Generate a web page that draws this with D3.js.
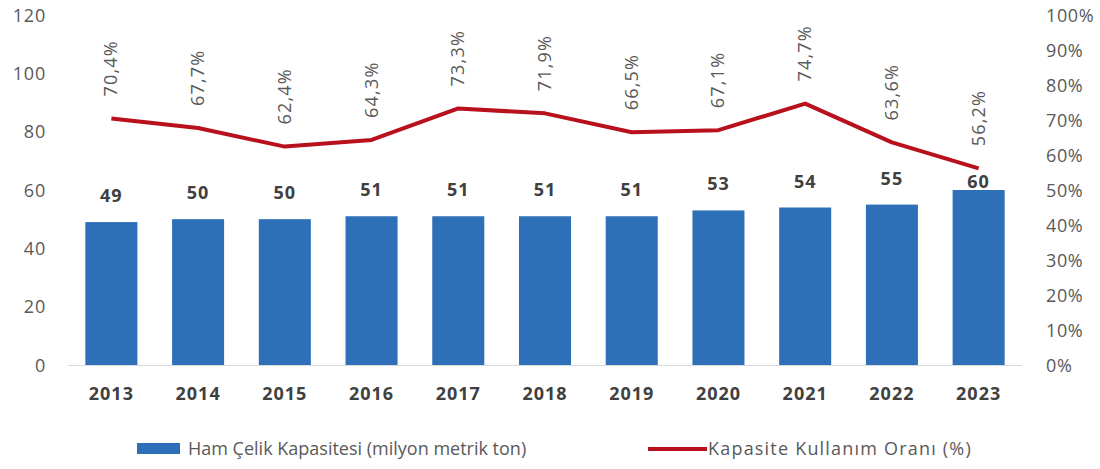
<!DOCTYPE html>
<html>
<head>
<meta charset="utf-8">
<script src="https://cdn.jsdelivr.net/npm/d3@7"></script>
<style>
  body { margin: 0; background: #fff; }
  svg { display: block; font-family: "Open Sans", "Noto Sans", sans-serif; }
</style>
</head>
<body>
<svg id="chart" width="1100" height="469"></svg>
<script>
// Crude steel capacity (million metric tons) and capacity utilisation (%)
const years = ["2013", "2014", "2015", "2016", "2017", "2018", "2019", "2020", "2021", "2022", "2023"];
const capacity = [49, 50, 50, 51, 51, 51, 51, 53, 54, 55, 60];
const utilisation = [70.4, 67.7, 62.4, 64.3, 73.3, 71.9, 66.5, 67.1, 74.7, 63.6, 56.2];
const leftTicks = [0, 20, 40, 60, 80, 100, 120];
const rightTicks = [0, 10, 20, 30, 40, 50, 60, 70, 80, 90, 100];
const seriesNames = ["Ham Çelik Kapasitesi (milyon metrik ton)", "Kapasite Kullanım Oranı (%)"];

const svg = d3.select("#chart");
const plot = { left: 68, right: 1022, top: 15, bottom: 365 };

const x = d3.scaleBand().domain(years).range([plot.left, plot.right]).paddingInner(0.4).paddingOuter(0.2);
const yL = d3.scaleLinear().domain([0, 120]).range([plot.bottom, plot.top]);
const yR = d3.scaleLinear().domain([0, 100]).range([plot.bottom, plot.top]);

const fmtPct = v => d3.format(".1f")(v).replace(".", ",") + "%";
const grey = "#595959";
const dark = "#404040";
const blue = "#2E70B8";
const red = "#B8101C";

// Left axis (tons)
const axL = svg.append("g").attr("transform", `translate(${plot.left - 22},0)`)
  .call(d3.axisLeft(yL).tickValues(leftTicks).tickSize(0).tickPadding(0));
axL.select(".domain").remove();
axL.selectAll("text").attr("fill", grey).attr("dy", "0.35em")
  .style("font-size", "18px").style("font-family", "Open Sans").style("letter-spacing", "0.8px");

// Right axis (percent)
const axR = svg.append("g").attr("transform", `translate(1046,0)`)
  .call(d3.axisRight(yR).tickValues(rightTicks).tickSize(0).tickPadding(0).tickFormat(d => d + "%"));
axR.select(".domain").remove();
axR.selectAll("text").attr("fill", grey).attr("dy", "0.35em")
  .style("font-size", "18px").style("font-family", "Open Sans").style("letter-spacing", "0.6px");

// Bars
svg.append("g").selectAll("rect").data(years).join("rect")
  .attr("x", d => x(d))
  .attr("y", (d, i) => yL(capacity[i]))
  .attr("width", x.bandwidth())
  .attr("height", (d, i) => yL(0) - yL(capacity[i]))
  .attr("fill", blue);

// Baseline
svg.append("line")
  .attr("x1", plot.left).attr("x2", plot.right)
  .attr("y1", yL(0) + 0.5).attr("y2", yL(0) + 0.5)
  .attr("stroke", "#d9d9d9").attr("stroke-width", 1);

// Category axis
const axX = svg.append("g").attr("transform", `translate(0,${plot.bottom})`)
  .call(d3.axisBottom(x).tickSize(0).tickPadding(0));
axX.select(".domain").remove();
axX.selectAll("text").attr("fill", dark).attr("y", 35).attr("dy", 0)
  .style("font-size", "18px").style("font-weight", "bold").style("font-family", "Open Sans")
  .style("letter-spacing", "1px");

// Utilisation line
const line = d3.line().x((d, i) => x(years[i]) + x.bandwidth() / 2).y(d => yR(d));
svg.append("path").datum(utilisation)
  .attr("d", line).attr("fill", "none").attr("stroke", red)
  .attr("stroke-width", 4).attr("stroke-linejoin", "round");

// Bar value labels (kept clear of the line)
svg.append("g").selectAll("text").data(years).join("text")
  .attr("x", d => x(d) + x.bandwidth() / 2)
  .attr("y", (d, i) => Math.max(yL(capacity[i]) - 20, yR(utilisation[i]) + 20))
  .attr("text-anchor", "middle")
  .attr("fill", dark)
  .style("font-size", "18px").style("font-weight", "bold").style("letter-spacing", "1px")
  .text((d, i) => capacity[i]);

// Utilisation labels, rotated
svg.append("g").selectAll("text").data(years).join("text")
  .attr("transform", (d, i) => `translate(${x(d) + x.bandwidth() / 2 + 6},${yR(utilisation[i]) - 22}) rotate(-90)`)
  .attr("text-anchor", "start")
  .attr("fill", grey)
  .style("font-size", "18px").style("letter-spacing", "1.2px")
  .text((d, i) => fmtPct(utilisation[i]));

// Legend
const lg = svg.append("g");
lg.append("rect").attr("x", 137).attr("y", 443).attr("width", 43).attr("height", 11).attr("fill", blue);
lg.append("text").attr("x", 188).attr("y", 455).attr("fill", grey)
  .style("font-size", "18px").text(seriesNames[0]);
lg.append("line").attr("x1", 648).attr("x2", 707).attr("y1", 449).attr("y2", 449).attr("stroke", red).attr("stroke-width", 4);
lg.append("text").attr("x", 708).attr("y", 455).attr("fill", grey)
  .style("font-size", "18px").style("letter-spacing", "1.2px").text(seriesNames[1]);
</script>
</body>
</html>
